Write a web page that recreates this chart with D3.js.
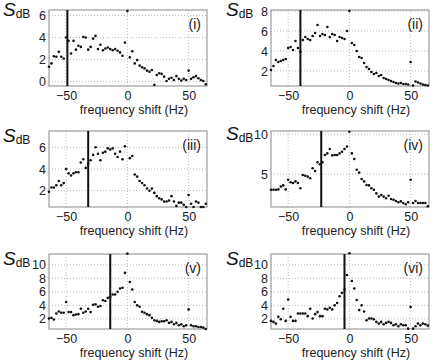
<!DOCTYPE html>
<html>
<head>
<meta charset="utf-8">
<script src="https://cdn.jsdelivr.net/npm/d3@7"></script>
<style>
  body { margin: 0; background: #fff; }
  text { font-family: "Liberation Sans", Arial, sans-serif; }
</style>
</head>
<body>
<div id="chart"></div>
<script>
// frequency shift of every sample (Hz)
const freq = [-64,-62,-60,-58,-56,-54,-52,-50,-48,-46,-44,-42,-40,-38,-36,-34,-32,-30,-28,-26,-24,-22,-20,-18,-16,-14,-12,-10,-8,-6,-4,-2,
  0,2,4,6,8,10,12,14,16,18,20,22,24,26,28,30,32,34,36,38,40,42,44,46,48,50,52,54,56,58,60,62,64];

// S_dB per panel
const sI = [1.35,1.65,2.3,2.25,2.7,2.25,2.1,4.0,3.7,2.55,3.7,2.9,3.25,3.15,4.05,4.0,2.9,3.15,3.9,4.15,2.95,3.35,2.85,3.0,3.1,2.95,2.85,2.95,2.8,2.65,2.35,3.55,
  6.4,2.2,2.75,1.65,1.95,1.45,1.3,1.2,1.0,0.9,1.05,-0.3,0.6,0.75,0.7,0.45,0.05,0.25,0.35,0.15,0.5,0.25,0.1,0.25,0.15,1.0,0.25,0.4,0.5,0.3,0.15,0.05,-0.25];
const sII = [2.1,2.5,3.1,2.9,3.0,3.1,3.2,4.3,4.4,4.1,5.0,4.3,3.9,5.1,5.4,5.2,5.1,5.5,5.8,6.6,5.5,5.7,5.6,6.4,5.4,5.7,5.6,5.0,5.4,5.3,5.2,6.0,
  8.0,4.8,4.6,4.0,3.4,3.3,2.8,2.4,2.2,1.9,1.7,1.8,1.5,1.6,1.3,1.2,1.1,1.0,0.9,0.8,0.75,0.8,0.7,0.7,0.65,2.9,0.55,0.95,0.85,0.75,0.65,0.6,0.55];
const sIII = [1.9,2.3,2.3,2.5,2.9,2.5,2.7,4.0,3.6,3.4,3.6,3.7,3.7,4.6,4.9,4.1,4.5,4.8,5.3,6.0,5.4,4.8,5.5,5.6,5.9,5.8,5.9,5.4,5.1,5.6,4.9,6.1,
  null,5.0,5.2,3.5,3.3,2.9,2.7,2.5,2.2,2.0,2.2,1.8,1.5,1.3,1.2,1.0,1.0,1.1,1.5,1.0,0.6,0.9,0.9,0.7,0.5,1.6,0.8,0.5,1.0,0.9,0.5,0.5,0.8];
const sIV = [3.05,3.05,3.05,3.1,3.45,3.6,3.1,4.3,4.0,3.9,4.1,3.9,3.25,4.9,4.8,4.7,4.5,5.75,5.4,6.5,6.25,6.5,7.4,7.6,8.15,7.35,7.4,7.4,7.6,7.8,8.15,8.45,
  10.3,7.6,6.9,5.55,5.2,4.4,4.1,3.65,3.6,3.25,3.05,2.6,2.2,2.4,2.2,2.0,2.3,1.9,1.8,1.65,1.5,1.6,1.4,1.25,1.5,4.3,1.4,1.65,1.4,1.4,1.4,1.4,1.0];
const sV = [2.05,2.15,1.9,2.8,3.1,2.9,2.9,4.5,3.0,3.0,2.55,2.65,2.7,3.5,2.9,3.1,3.5,3.0,4.1,4.15,3.8,3.9,4.75,4.65,5.1,5.25,5.6,5.6,6.0,6.5,6.6,8.8,
  11.65,7.45,6.35,4.5,4.0,3.8,3.05,2.9,2.7,2.55,2.15,1.8,1.7,1.55,1.65,1.65,1.8,1.4,1.55,1.2,1.4,1.05,1.2,0.9,1.05,3.4,1.05,0.9,0.9,0.8,0.8,0.7,0.5];
const sVI = [1.7,1.55,1.3,2.3,1.95,3.5,1.7,4.85,2.3,1.7,1.7,2.8,2.8,2.8,2.8,2.4,3.5,2.05,2.7,3.0,2.4,2.4,3.5,3.4,3.65,3.4,4.0,4.35,5.35,5.85,6.35,8.5,
  11.7,7.6,6.5,4.8,3.3,4.0,3.1,1.8,2.05,2.05,1.95,1.55,1.3,1.55,1.2,1.4,1.55,1.4,1.05,1.2,0.9,1.2,1.05,1.05,0.55,3.75,0.55,0.9,1.3,1.05,1.3,1.2,1.0];

// marker line position per panel (Hz)
const markers = [-49, -40, -32, -23, -14, -4];
const labels = ["(i)", "(ii)", "(iii)", "(iv)", "(v)", "(vi)"];
const xTicks = [-50, 0, 50];
const yTicks = [[0,2,4,6], [2,4,6,8], [2,4,6], [5,10], [2,4,6,8,10], [2,4,6,8,10]];
const yDomains = [[-0.4,6.5], [0.5,8.1], [0.5,7.5], [0.9,10.4], [0.5,11.6], [0.5,11.6]];
const series = [sI, sII, sIII, sIV, sV, sVI];

const W = 436, H = 363;
const colX = [49, 271], plotW = 158;
const rowY = [10, 131, 254], rowH = [76, 76, 75];
const sBase = [15.5, 16, 141.5, 139.5, 265, 264.5];

const svg = d3.select("#chart").append("svg")
  .attr("width", W).attr("height", H);

series.forEach(function (vals, i) {
  let col = i % 2, row = Math.floor(i / 2);
  let x0 = colX[col], y0 = rowY[row], h = rowH[row];
  let g = svg.append("g").attr("transform", "translate(" + x0 + "," + y0 + ")");

  let x = d3.scaleLinear().domain([-64, 65]).range([0, plotW]);
  let y = d3.scaleLinear().domain(yDomains[i]).range([h, 0]);

  // dotted grid
  g.append("g").selectAll("line.vg").data(xTicks).enter().append("line")
    .attr("x1", d => x(d)).attr("x2", d => x(d)).attr("y1", 0).attr("y2", h)
    .attr("stroke", "#aaa").attr("stroke-width", 0.8).attr("stroke-dasharray", "1,2");
  g.append("g").selectAll("line.hg").data(yTicks[i]).enter().append("line")
    .attr("x1", 0).attr("x2", plotW).attr("y1", d => y(d)).attr("y2", d => y(d))
    .attr("stroke", "#aaa").attr("stroke-width", 0.8).attr("stroke-dasharray", "1,2");

  // frame
  g.append("rect").attr("width", plotW).attr("height", h)
    .attr("fill", "none").attr("stroke", "#888").attr("stroke-width", 1);

  // tick labels
  let xa = g.append("g").attr("transform", "translate(0," + h + ")")
    .call(d3.axisBottom(x).tickValues(xTicks).tickSize(0).tickPadding(5).tickFormat(d3.format("d")));
  xa.select(".domain").remove();
  xa.selectAll("text").attr("font-size", 12.5).attr("fill", "#222")
    .attr("font-family", "'Liberation Sans', Arial, sans-serif");

  let ya = g.append("g")
    .call(d3.axisLeft(y).tickValues(yTicks[i]).tickSize(0).tickPadding(3).tickFormat(d3.format("d")));
  ya.select(".domain").remove();
  ya.selectAll("text").attr("font-size", 12.5).attr("fill", "#222")
    .attr("font-family", "'Liberation Sans', Arial, sans-serif");

  g.append("text").attr("x", plotW / 2 + 6).attr("y", h + 28)
    .attr("text-anchor", "middle").attr("font-size", 12.5).attr("fill", "#222")
    .text("frequency shift (Hz)");

  // marker line
  g.append("line").attr("x1", x(markers[i])).attr("x2", x(markers[i]))
    .attr("y1", 0).attr("y2", h).attr("stroke", "#111").attr("stroke-width", 2);

  // points
  let pts = freq.map((f, k) => ({ f: f, v: vals[k] })).filter(d => d.v !== null);
  g.append("g").selectAll("circle").data(pts).enter().append("circle")
    .attr("cx", d => x(d.f)).attr("cy", d => y(d.v)).attr("r", 1.3).attr("fill", "#111");

  // panel tag
  g.append("text").attr("x", plotW - 6).attr("y", 19).attr("text-anchor", "end")
    .attr("font-family", "'Liberation Serif', 'Times New Roman', serif")
    .attr("font-size", 14).attr("fill", "#222").text(labels[i]);

  // S_dB
  let sx = col === 0 ? 3 : 226;
  let t = svg.append("text").attr("x", sx).attr("y", sBase[i])
    .attr("font-family", "'Liberation Serif', 'Times New Roman', serif").attr("fill", "#111");
  t.append("tspan").attr("font-style", "italic").attr("font-size", 19).text("S");
  t.append("tspan").attr("font-size", 12).attr("dy", 2).text("dB");
});
</script>
</body>
</html>
